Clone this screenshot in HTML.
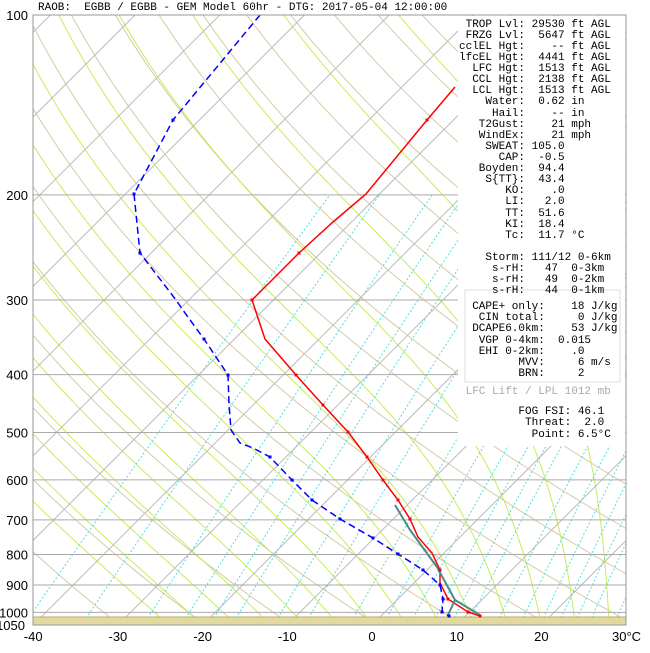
<!DOCTYPE html>
<html><head><meta charset="utf-8">
<style>
html,body{margin:0;padding:0;background:#fff;}
svg text{font-family:"Liberation Mono",monospace;}
.ax{font-family:"Liberation Sans",Arial,sans-serif;font-size:13px;fill:#000;}
</style></head>
<body>
<svg id="s" width="650" height="648" viewBox="0 0 650 648" xmlns="http://www.w3.org/2000/svg">
<defs><clipPath id="c"><rect x="33" y="15" width="593" height="610"/></clipPath></defs>
<rect width="650" height="648" fill="#fff"/>
<g id="bg" clip-path="url(#c)"></g>
<g id="iso"></g>
<rect x="33" y="617" width="593" height="8" fill="#e3d89e"/>
<line x1="33" y1="617" x2="626" y2="617" stroke="#b8ad70" stroke-width="1"/>
<rect x="458" y="16" width="167" height="430" fill="#fff"/>
<rect x="465" y="290" width="155" height="92" fill="none" stroke="#ddd" stroke-width="1"/>
<g clip-path="url(#c)">
<polyline fill="none" stroke="#0000ff" stroke-width="1.5" stroke-dasharray="7,4" points="260,15 173,120 134,194 140,253 176,300 185,313 204,339 228,375 229,404 231,430 240,443 253,448 270,457 292,480 312,500 340,519 373,538 398,554 423,570 440,585 443,599 442,612 449,616"/>
<polyline fill="none" stroke="#ff0000" stroke-width="1.5" points="455,87 427,120 366,194 333,222 299,253 252,300 265,339 296,375 323,405 348,432 367,457 383,480 398,500 410,519 418,537 432,553 440,570 440,583 448,599 468,612 480,616"/>
<polyline fill="none" stroke="#4a8a88" stroke-width="2" points="395,505 410,530 437,567 455,600 480,615"/>
<polyline fill="none" stroke="#4a8a88" stroke-width="2" points="455,600 448,615"/>
</g>
<g id="dots"></g>
<rect x="33" y="15" width="593" height="610" fill="none" stroke="#999" stroke-width="1"/>
<text x="38" y="10" font-size="11" fill="#000" xml:space="preserve">RAOB:  EGBB / EGBB - GEM Model 60hr - DTG: 2017-05-04 12:00:00</text>
<g font-size="11" fill="#000" id="panel"></g>
<g id="lab"></g>
</svg>
<script>
var NS="http://www.w3.org/2000/svg";
function Y(p){return 15+Math.log(p/100)/Math.log(10.5)*610;}
function X(T,p){return 372+8.47*T+(625-Y(p));}
function pl(par,pts,st,w,dash){var e=document.createElementNS(NS,"polyline");e.setAttribute("points",pts.map(function(a){return a[0].toFixed(1)+","+a[1].toFixed(1)}).join(" "));e.setAttribute("fill","none");e.setAttribute("stroke",st);e.setAttribute("stroke-width",w||1);if(dash)e.setAttribute("stroke-dasharray",dash);par.appendChild(e);}
var bg=document.getElementById("bg");
for(var th=230;th<=480;th+=10){var pts=[];for(var p=1050;p>=100;p-=10){var T=th*Math.pow(p/1000,0.286)-273.15;pts.push([X(T,p),Y(p)]);}pl(bg,pts,"#d6cba6",1);}
function es(T){return 6.112*Math.exp(17.67*T/(T+243.5));}
for(var t0=-24;t0<=40;t0+=4){var T=t0,pts=[];for(var p=1050;p>=100;p-=5){pts.push([X(T,p),Y(p)]);var TK=T+273.15,rs=0.622*es(T)/(p-es(T));var dTdp=(287*TK+2.5e6*rs)/(p*(1004+2.5e6*2.5e6*rs*0.622/(287*TK*TK)));T-=dTdp*5;}pl(bg,pts,"#c8ec5a",1);}
[0.1,0.2,0.4,0.6,0.8,1,1.5,2,3,4,5,6,7,8,10,12,14,16,18,20,24,28,32,36,40].forEach(function(w){var pts=[];for(var p=1050;p>=200;p-=10){var e=w*p/(622+w),l=Math.log(e/6.112),T=243.5*l/(17.67-l);pts.push([X(T,p),Y(p)]);}pl(bg,pts,"#55dddd",1,"2,2");});
for(var T=-140;T<=40;T+=10){var e=document.createElementNS(NS,"line");var x0=372+8.47*T;e.setAttribute("x1",x0);e.setAttribute("y1",625);e.setAttribute("x2",x0+610);e.setAttribute("y2",15);e.setAttribute("stroke","#bbb");bg.appendChild(e);}
var iso=document.getElementById("iso");var lab=document.getElementById("lab");
[100,200,300,400,500,600,700,800,900,1000].forEach(function(p){var y=Y(p);var e=document.createElementNS(NS,"line");e.setAttribute("x1",33);e.setAttribute("x2",626);e.setAttribute("y1",y);e.setAttribute("y2",y);e.setAttribute("stroke","#aaa");iso.appendChild(e);
var t=document.createElementNS(NS,"text");t.setAttribute("class","ax");t.setAttribute("x",28);t.setAttribute("y",y+5);t.setAttribute("text-anchor","end");t.textContent=p;lab.appendChild(t);});
var t=document.createElementNS(NS,"text");t.setAttribute("class","ax");t.setAttribute("x",25);t.setAttribute("y",630);t.setAttribute("text-anchor","end");t.textContent="1050";lab.appendChild(t);
[-40,-30,-20,-10,0,10,20].forEach(function(T){var t=document.createElementNS(NS,"text");t.setAttribute("class","ax");t.setAttribute("x",372+8.47*T);t.setAttribute("y",641);t.setAttribute("text-anchor","middle");t.textContent=T;lab.appendChild(t);});
var t=document.createElementNS(NS,"text");t.setAttribute("class","ax");t.setAttribute("x",612);t.setAttribute("y",641);t.textContent="30°C";lab.appendChild(t);
var dots=document.getElementById("dots");
[[427,120,"#f00"],[299,253,"#f00"],[252,300,"#f00"],[296,375,"#f00"],[323,405,"#f00"],[348,432,"#f00"],[367,457,"#f00"],[383,480,"#f00"],[398,500,"#f00"],[410,519,"#f00"],[440,570,"#f00"],[448,599,"#f00"],[468,612,"#f00"],[480,616,"#f00"],
[173,120,"#00f"],[134,194,"#00f"],[140,253,"#00f"],[204,339,"#00f"],[228,375,"#00f"],[270,457,"#00f"],[292,480,"#00f"],[312,500,"#00f"],[340,519,"#00f"],[373,538,"#00f"],[398,554,"#00f"],[423,570,"#00f"],[440,585,"#00f"],[443,599,"#00f"],[442,612,"#00f"],[449,616,"#00f"]].forEach(function(d){var c=document.createElementNS(NS,"rect");c.setAttribute("x",d[0]-1.5);c.setAttribute("y",d[1]-1.5);c.setAttribute("width",3);c.setAttribute("height",3);c.setAttribute("fill",d[2]);dots.appendChild(c);});
var L=[[23," TROP Lvl: 29530 ft AGL"],[34," FRZG Lvl:  5647 ft AGL"],[45,"cclEL Hgt:    -- ft AGL"],[56,"lfcEL Hgt:  4441 ft AGL"],[67,"  LFC Hgt:  1513 ft AGL"],[78,"  CCL Hgt:  2138 ft AGL"],[89,"  LCL Hgt:  1513 ft AGL"],[100,"    Water:  0.62 in"],[112,"     Hail:    -- in"],[123,"   T2Gust:    21 mph"],[134,"   WindEx:    21 mph"],[145,"    SWEAT: 105.0"],[156,"      CAP:  -0.5"],[167,"   Boyden:  94.4"],[178,"    S{TT}:  43.4"],[189,"       KO:    .0"],[200,"       LI:   2.0"],[212,"       TT:  51.6"],[223,"       KI:  18.4"],[234,"       Tc:  11.7 °C"],
[256,"    Storm: 111/12 0-6km"],[267,"     s-rH:   47  0-3km"],[278,"     s-rH:   49  0-2km"],[289,"     s-rH:   44  0-1km"],
[305,"  CAPE+ only:    18 J/kg"],[316,"   CIN total:     0 J/kg"],[327,"  DCAPE6.0km:    53 J/kg"],[339,"   VGP 0-4km:  0.015"],[350,"   EHI 0-2km:    .0"],[361,"         MVV:     6 m/s"],[372,"         BRN:     2"],
[390," LFC Lift / LPL 1012 mb","#aaa"],[410,"         FOG FSI: 46.1"],[421,"          Threat:  2.0"],[433,"           Point: 6.5°C"]];
var pn=document.getElementById("panel");
L.forEach(function(l){var t=document.createElementNS(NS,"text");t.setAttribute("x",459);t.setAttribute("y",l[0]+4);t.setAttribute("xml:space","preserve");t.style.whiteSpace="pre";if(l[2])t.setAttribute("fill",l[2]);t.textContent=l[1];pn.appendChild(t);});
</script>
</body></html>
